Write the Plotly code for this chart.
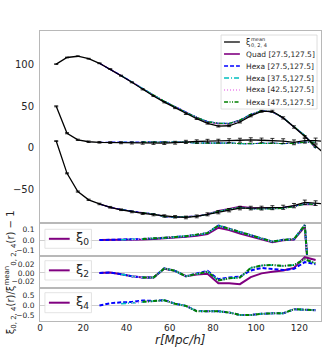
import plotly.graph_objects as go
from plotly.subplots import make_subplots

# separations [Mpc/h]
r = [7.5, 12.5, 17.5, 22.5, 27.5, 32.5, 37.5, 42.5, 47.5, 52.5, 57.5, 62.5, 67.5,
     72.5, 77.5, 82.5, 87.5, 92.5, 97.5, 102.5, 107.5, 112.5, 117.5, 122.5, 127.5, 132.5]

# mean multipoles r^2 xi_l
xi0_mean = [101, 109, 110.5, 107.5, 102, 95, 87, 79, 70.5, 62.5, 55, 48, 41, 35, 29.5,
            26, 26.5, 31, 38.5, 44, 44, 36, 25, 13, 2, -9]
xi2_mean = [8, -31, -53, -63, -68, -72, -75, -77.5, -79.5, -81, -82.5, -83.5, -84.3, -83,
            -80.5, -78, -75.5, -73, -73, -73, -72.5, -72, -70, -66, -67, -68]
xi4_mean = [50, 17.5, 9.5, 7.2, 6.5, 6.2, 6, 5.8, 5.6, 5.5, 5.5, 6, 7, 7.5, 8, 8, 8.5, 9,
            9.5, 9, 8.5, 8, 6.5, 8.5, 8.5, 7.5]
err0 = [0.4, 0.4, 0.4, 0.5, 0.5, 0.5, 0.6, 0.6, 0.7, 0.7, 0.8, 0.8, 0.9, 0.9, 1, 1, 1.1,
        1.1, 1.2, 1.2, 1.3, 1.3, 1.4, 1.4, 1.5, 1.5]
err2 = [0.5, 0.6, 0.7, 0.8, 0.9, 1, 1, 1.1, 1.2, 1.3, 1.4, 1.5, 1.6, 1.7, 1.8, 1.9, 2,
        2.1, 2.2, 2.3, 2.4, 2.5, 2.6, 2.7, 2.8, 2.9]
err4 = [0.6, 0.7, 0.8, 0.9, 1, 1.1, 1.2, 1.3, 1.4, 1.5, 1.6, 1.7, 1.9, 2, 2.1, 2.2, 2.3,
        2.4, 2.5, 2.6, 2.7, 2.8, 2.9, 3, 3.1, 3.2]

# fit range grid and residuals xi_model / xi_mean - 1
r_fit = [27.5, 32.5, 37.5, 42.5, 47.5, 52.5, 57.5, 62.5, 67.5, 72.5, 77.5, 82.5, 87.5,
         92.5, 97.5, 102.5, 107.5, 112.5, 117.5, 122.5, 127.5]
res0_quad = [0.0, 0.0, 0.001, 0.003, 0.006, 0.01, 0.015, 0.022, 0.03, 0.04, 0.056, 0.116,
             0.095, 0.062, 0.035, 0.008, -0.02, -0.002, 0.004, 0.125, -1.2]
res0_hexa = [0.0, 0.001, 0.003, 0.006, 0.01, 0.014, 0.02, 0.028, 0.036, 0.048, 0.066,
             0.136, 0.105, 0.075, 0.045, 0.015, -0.015, 0.002, 0.008, 0.14, -1.2]
res2_quad = [0.0, 0.001, -0.003, -0.008, -0.011, -0.011, 0.01, 0.005, -0.008, -0.004,
             -0.002, -0.025, -0.025, -0.027, -0.01, -0.001, 0.003, 0.006, 0.012, 0.038, 0.031]
res2_h27 = [0.0, 0.001, -0.003, -0.008, -0.011, -0.011, 0.011, 0.005, -0.008, -0.002,
            0.005, -0.015, -0.011, -0.009, 0.006, 0.012, 0.01, 0.007, 0.01, 0.026, 0.021]
res2_hexa = [0.0, 0.001, -0.003, -0.008, -0.011, -0.011, 0.011, 0.005, -0.008, -0.002,
             0.003, -0.018, -0.013, -0.011, 0.012, 0.018, 0.019, 0.017, 0.019, 0.033, 0.023]
res4_h27 = [0.0, 0.11, 0.15, 0.17, 0.24, 0.22, 0.26, 0.09, -0.02, -0.27, -0.28, -0.28,
            -0.34, -0.46, -0.46, -0.4, -0.38, -0.38, -0.18, -0.22, -0.23]
res4_hexa = [0.0, 0.05, 0.08, 0.12, 0.18, 0.2, 0.25, 0.08, -0.02, -0.28, -0.28, -0.28,
             -0.34, -0.46, -0.46, -0.4, -0.38, -0.38, -0.18, -0.22, -0.23]

models = [
    dict(name="Quad [27.5,127.5]", rmin=27.5, r0=res0_quad, r2=res2_quad, r4=None,
         color="#800080", dash="solid", w=2.0),
    dict(name="Hexa [27.5,127.5]", rmin=27.5, r0=res0_hexa, r2=res2_h27, r4=res4_h27,
         color="#0000ff", dash="4px,2px", w=2.0),
    dict(name="Hexa [37.5,127.5]", rmin=37.5, r0=res0_hexa, r2=res2_hexa, r4=res4_hexa,
         color="#00bfbf", dash="5px,2px,1px,2px", w=1.6),
    dict(name="Hexa [42.5,127.5]", rmin=42.5, r0=res0_hexa, r2=res2_hexa, r4=res4_hexa,
         color="#ee82ee", dash="1px,2px", w=1.6),
    dict(name="Hexa [47.5,127.5]", rmin=47.5, r0=res0_hexa, r2=res2_hexa, r4=res4_hexa,
         color="#008000", dash="4px,1.5px,1px,1.5px,1px,1.5px", w=2.0),
]

W, H = 334, 354
L, R, T, B = 38, 12, 31, 33
PW, PH = W - L - R, H - T - B
FONT = "DejaVu Sans"

fig = make_subplots(rows=4, cols=1, shared_xaxes=True, vertical_spacing=0,
                    row_heights=[192, 32.5, 32.8, 32.7])

i0 = r.index(r_fit[0])
means = [xi0_mean, xi2_mean, xi4_mean]

# models in the main panel (drawn under the mean)
for m in models:
    k = r_fit.index(m["rmin"])
    xs = r_fit[k:]
    for mean, res in zip(means, [m["r0"], m["r2"], m["r4"]]):
        if res is None:
            continue
        base = mean[i0:i0 + len(r_fit)]
        ys = [b * (1 + e) for b, e in zip(base[k:], res[k:])]
        fig.add_trace(go.Scatter(x=xs, y=ys, mode="lines", showlegend=False,
                                 line=dict(color=m["color"], dash=m["dash"], width=1.2)),
                      row=1, col=1)

for mean, err in zip(means, [err0, err2, err4]):
    fig.add_trace(go.Scatter(x=r, y=mean, mode="lines", showlegend=False,
                             line=dict(color="black", width=1.3),
                             error_y=dict(type="data", array=err, color="black",
                                          thickness=0.8, width=2)),
                  row=1, col=1)

# residual panels
for row, key in [(2, "r0"), (3, "r2"), (4, "r4")]:
    for m in models:
        if m[key] is None:
            continue
        k = r_fit.index(m["rmin"])
        fig.add_trace(go.Scatter(x=r_fit[k:], y=m[key][k:], mode="lines", showlegend=False,
                                 line=dict(color=m["color"], dash=m["dash"], width=m["w"])),
                      row=row, col=1)

axcol = "#b8b8b8"
tickcol = "#262626"
for i in range(1, 5):
    fig.update_xaxes(range=[0, 130], showline=True, mirror=True, linecolor=axcol,
                     linewidth=1, showgrid=False, zeroline=False, ticks="",
                     tickvals=[0, 20, 40, 60, 80, 100, 120], ticklabelstandoff=-2,
                     tickfont=dict(family=FONT, size=9, color=tickcol), row=i, col=1)

fig.update_yaxes(range=[-91, 141], tickvals=[-50, 0, 50, 100], showgrid=False,
                 zeroline=False, tickfont=dict(family=FONT, size=10, color=tickcol),
                 row=1, col=1)
fig.update_yaxes(range=[-0.145, 0.16], tickvals=[-0.1, 0, 0.1], tickformat=".1f", row=2, col=1)
fig.update_yaxes(range=[-0.037, 0.042], tickvals=[-0.02, 0, 0.02], tickformat=".2f", row=3, col=1)
fig.update_yaxes(range=[-0.75, 0.83], tickvals=[-0.5, 0, 0.5], tickformat=".1f", row=4, col=1)
for i in range(2, 5):
    fig.update_yaxes(showgrid=False, zeroline=True, zerolinecolor="#cfcfcf", zerolinewidth=1,
                     tickfont=dict(family=FONT, size=7.5, color=tickcol), row=i, col=1)
fig.update_yaxes(showline=True, mirror=True, linecolor=axcol, linewidth=1, ticks="",
                 ticklabelstandoff=3)


# helpers: position in screenshot pixels -> paper coords
def px(x):
    return (x - L) / PW


def py(y):
    return (H - B - y) / PH


def note(x, y, text, size, **kw):
    d = dict(xref="paper", yref="paper", x=px(x), y=py(y), text=text, showarrow=False,
             xanchor="left", yanchor="middle", font=dict(family=FONT, size=size, color="#262626"))
    d.update(kw)
    return d


shapes = []
annots = []

# main legend
shapes.append(dict(type="rect", xref="paper", yref="paper", x0=px(221), x1=px(318),
                   y0=py(35), y1=py(109), line=dict(color="#d6d6d6", width=0.8),
                   fillcolor="rgba(255,255,255,0.85)", layer="above"))
entries = [dict(name=None, color="#333333", dash="solid", w=1.6)] + models
for j, m in enumerate(entries):
    yc = 42 + 12 * j
    shapes.append(dict(type="line", xref="paper", yref="paper", x0=px(224), x1=px(240),
                       y0=py(yc), y1=py(yc), layer="above",
                       line=dict(color=m["color"], dash=m["dash"], width=min(m["w"], 1.6))))
    if m["name"] is None:
        annots.append(note(244, yc + 0.5, "ξ", 8))
        annots.append(note(249.5, yc - 3, "mean", 5))
        annots.append(note(249.5, yc + 3, "0, 2, 4", 5))
    else:
        annots.append(note(244, yc, m["name"], 7.5))

# residual panel legends
for lab, (y0, y1) in zip(["0", "2", "4"], [(229.3, 248.3), (260.7, 280), (292.7, 312.7)]):
    yc = (y0 + y1) / 2
    shapes.append(dict(type="rect", xref="paper", yref="paper", x0=px(43), x1=px(90),
                       y0=py(y0), y1=py(y1), line=dict(color="#dcdcdc", width=0.8),
                       fillcolor="rgba(255,255,255,0.85)", layer="above"))
    shapes.append(dict(type="line", xref="paper", yref="paper", x0=px(47), x1=px(68),
                       y0=py(yc), y1=py(yc), layer="above",
                       line=dict(color="#800080", width=2)))
    annots.append(note(72, yc, f"ξ<sub>{lab}</sub>", 13))

annots.append(note(8, 272, "ξ<sub>0, 2, 4</sub>(r)/ξ<sup>mean</sup><sub>0, 2, 4</sub>(r) − 1",
                   10, textangle=-90, xanchor="center"))
annots.append(note(180, 340, "<i>r[Mpc/h]</i>", 12, xanchor="center"))

fig.update_layout(width=W, height=H, margin=dict(l=L, r=R, t=T, b=B),
                  paper_bgcolor="white", plot_bgcolor="white", showlegend=False,
                  shapes=shapes, annotations=annots)

# drop the default 8px page margin so the figure fills the window
fig.write_html("out.html", config={"displayModeBar": False},
               post_script="document.body.style.margin='0px';")
